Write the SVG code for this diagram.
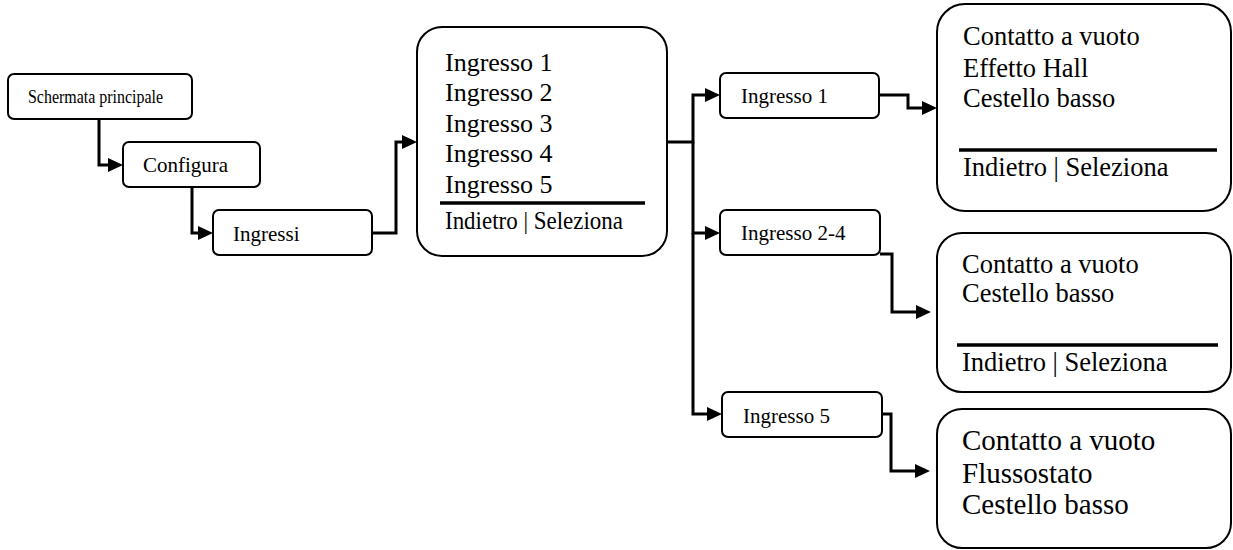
<svg xmlns="http://www.w3.org/2000/svg" width="1233" height="550" viewBox="0 0 1233 550">
  <style>
    .box { fill: #ffffff; stroke: #000000; stroke-width: 2; }
    .sep { stroke: #000000; stroke-width: 3.5; }
    .link { fill: none; stroke: #000000; stroke-width: 3; marker-end: url(#arrow); }
    text { font-family: 'Liberation Serif', 'Times New Roman', serif; fill: #000000; }
    .s { font-size: 21px; }
    .m { font-size: 26px; }
    .r { font-size: 26.5px; }
    .l { font-size: 29px; }
  </style>
  <defs>
    <marker id="arrow" markerUnits="userSpaceOnUse" markerWidth="16" markerHeight="16" refX="0" refY="7" orient="auto">
      <path d="M0,0 L15,7 L0,14 z" fill="#000000"/>
    </marker>
  </defs>
  <rect width="1233" height="550" fill="#ffffff"/>

  <!-- connectors -->
  <g id="connectors">
    <path class="link" d="M99,119 V165 H108"/>
    <path class="link" d="M192,187 V233 H198"/>
    <path class="link" d="M372,233 H396 V142 H402"/>
    <path class="link" d="M667,142 H693 V95 H705"/>
    <path class="link" d="M693,142 V233 H705"/>
    <path class="link" d="M693,233 V414 H707"/>
    <path class="link" d="M879,95 H908 V108 H922"/>
    <path class="link" d="M880,254 H892 V312 H916"/>
    <path class="link" d="M882,414 H891 V471 H915"/>
  </g>

  <!-- main screen -->
  <g id="node-schermata">
    <rect class="box" x="8" y="74" width="184" height="45" rx="6"/>
    <text x="28" y="103" font-size="18" textLength="135" lengthAdjust="spacingAndGlyphs">Schermata principale</text>
  </g>

  <g id="node-configura">
    <rect class="box" x="123" y="142" width="137" height="45" rx="6"/>
    <text class="s" x="143" y="172">Configura</text>
  </g>

  <g id="node-ingressi">
    <rect class="box" x="213" y="210" width="159" height="45" rx="6"/>
    <text class="s" x="233" y="241">Ingressi</text>
  </g>

  <!-- input list menu -->
  <g id="node-menu-ingressi">
    <rect class="box" x="417" y="27" width="250" height="229" rx="25"/>
    <text class="m" x="445" y="71">Ingresso 1</text>
    <text class="m" x="445" y="101">Ingresso 2</text>
    <text class="m" x="445" y="132">Ingresso 3</text>
    <text class="m" x="445" y="162">Ingresso 4</text>
    <text class="m" x="445" y="193">Ingresso 5</text>
    <line class="sep" x1="440" y1="203" x2="645" y2="203"/>
    <text class="m" x="445" y="229" textLength="178" lengthAdjust="spacingAndGlyphs">Indietro | Seleziona</text>
  </g>

  <g id="node-ingresso1">
    <rect class="box" x="720" y="73" width="159" height="45" rx="6"/>
    <text class="s" x="741" y="103">Ingresso 1</text>
  </g>

  <g id="node-ingresso2-4">
    <rect class="box" x="720" y="210" width="160" height="45" rx="6"/>
    <text class="s" x="741" y="240">Ingresso 2-4</text>
  </g>

  <g id="node-ingresso5">
    <rect class="box" x="722" y="392" width="160" height="45" rx="6"/>
    <text class="s" x="743" y="423">Ingresso 5</text>
  </g>

  <!-- sensor type menus -->
  <g id="node-tipi-ingresso1">
    <rect class="box" x="937" y="4" width="294" height="207" rx="28"/>
    <text class="r" x="963" y="45">Contatto a vuoto</text>
    <text class="r" x="963" y="77">Effetto Hall</text>
    <text class="r" x="963" y="107">Cestello basso</text>
    <line class="sep" x1="959" y1="150" x2="1217" y2="150"/>
    <text class="r" x="963" y="176">Indietro | Seleziona</text>
  </g>

  <g id="node-tipi-ingresso2-4">
    <rect class="box" x="937" y="233" width="294" height="159" rx="25"/>
    <text class="r" x="962" y="273">Contatto a vuoto</text>
    <text class="r" x="962" y="302">Cestello basso</text>
    <line class="sep" x1="957" y1="345" x2="1218" y2="345"/>
    <text class="r" x="962" y="371">Indietro | Seleziona</text>
  </g>

  <g id="node-tipi-ingresso5">
    <rect class="box" x="937" y="409" width="294" height="139" rx="25"/>
    <text class="l" x="962" y="450">Contatto a vuoto</text>
    <text class="l" x="962" y="483">Flussostato</text>
    <text class="l" x="962" y="514">Cestello basso</text>
  </g>
</svg>
